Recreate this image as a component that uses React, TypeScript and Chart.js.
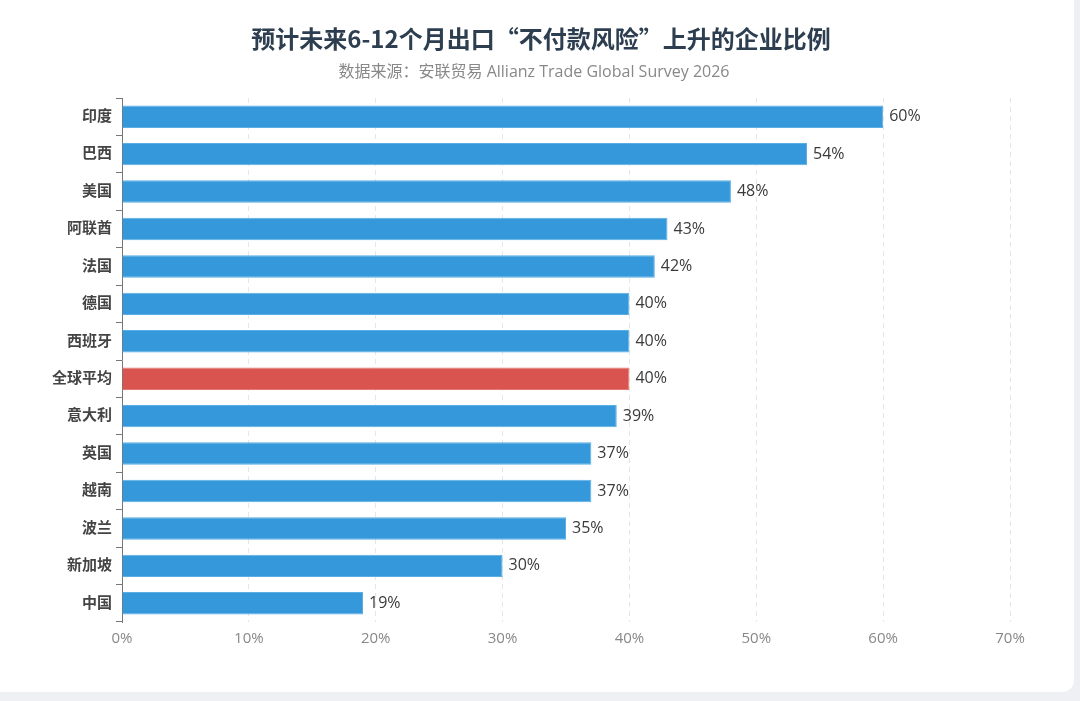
import React, { useEffect, useRef } from "react";
import { Chart, registerables } from "chart.js";

Chart.register(...registerables);

const TITLE = "预计未来6-12个月出口“不付款风险”上升的企业比例";
const SUBTITLE = "数据来源：安联贸易 Allianz Trade Global Survey 2026";
const categories = ["印度", "巴西", "美国", "阿联酋", "法国", "德国", "西班牙", "全球平均", "意大利", "英国", "越南", "波兰", "新加坡", "中国"];
const values = [60, 54, 48, 43, 42, 40, 40, 40, 39, 37, 37, 35, 30, 19];
const highlight = "全球平均";
const xTicks = [0, 10, 20, 30, 40, 50, 60, 70];

const BLUE = "#3498db";
const RED = "#d9534f";
const FONT = "'Open Sans', 'Noto Sans CJK SC', sans-serif";
const CJK_FONT = "'Noto Sans CJK SC', 'Open Sans', sans-serif";

const valueLabels = {
  id: "valueLabels",
  afterDatasetsDraw(chart: any) {
    const ctx = chart.ctx;
    const meta = chart.getDatasetMeta(0);
    ctx.save();
    ctx.font = `16px ${FONT}`;
    ctx.fillStyle = "#3a3a3a";
    ctx.textAlign = "left";
    ctx.textBaseline = "middle";
    meta.data.forEach((bar: any, i: number) => {
      ctx.fillText(`${values[i]}%`, bar.x + 6, bar.y);
    });
    ctx.restore();
  },
};

export default function App() {
  const ref = useRef<HTMLCanvasElement>(null);
  useEffect(() => {
    document.body.style.margin = "0";
    document.body.style.background = "#eef0f3";
    const chart = new Chart(ref.current!, {
      type: "bar",
      data: {
        labels: categories,
        datasets: [
          {
            data: values,
            backgroundColor: categories.map((c) => (c === highlight ? RED : BLUE)),
            borderColor: categories.map((c) => (c === highlight ? "#e57873" : "#5aaee6")),
            borderWidth: 1,
            categoryPercentage: 0.6,
            barPercentage: 1,
          },
        ],
      },
      options: {
        indexAxis: "y",
        animation: false,
        responsive: false,
        maintainAspectRatio: false,
        layout: { padding: { left: 48, right: 70, top: 98, bottom: 36 } },
        plugins: {
          legend: { display: false },
          tooltip: { enabled: false },
          title: { display: false },
        },
        scales: {
          x: {
            min: 0,
            max: 70,
            afterBuildTicks: (axis: any) => {
              axis.ticks = xTicks.map((v) => ({ value: v }));
            },
            ticks: {
              callback: (v: any) => `${v}%`,
              color: "#888",
              font: { family: FONT, size: 15 },
              padding: 8,
            },
            grid: {
              color: (c: any) => (c.tick && c.tick.value === 0 ? "rgba(0,0,0,0)" : "#e6e6e6"),
              drawTicks: false,
              tickLength: 0,
            },
            border: { display: false, dash: [5, 4] },
          },
          y: {
            ticks: {
              color: "#444",
              font: { family: FONT, size: 15, weight: "bold" },
              padding: 4,
            },
            grid: {
              offset: true,
              drawOnChartArea: false,
              drawTicks: true,
              tickLength: 6,
              color: "#777",
            },
            border: { display: true, color: "#777", width: 1 },
          },
        },
      },
      plugins: [valueLabels],
    });
    return () => chart.destroy();
  }, []);

  return (
    <div style={{ position: "relative", width: 1080, height: 701, overflow: "hidden", background: "#eef0f3" }}>
      <div
        style={{
          position: "absolute",
          left: -20,
          top: -20,
          width: 1094,
          height: 712,
          background: "#fff",
          borderRadius: 12,
        }}
      />
      <canvas ref={ref} width={1080} height={692} style={{ position: "absolute", left: 0, top: 0, width: 1080, height: 692 }} />
      <div
        style={{
          position: "absolute",
          left: 0,
          top: 24,
          width: 1082,
          textAlign: "center",
          fontFamily: CJK_FONT,
          fontSize: 24,
          fontWeight: "bold",
          lineHeight: "28px",
          color: "#2c3e50",
          whiteSpace: "nowrap",
        }}
      >
        {TITLE}
      </div>
      <div
        style={{
          position: "absolute",
          left: 0,
          top: 61,
          width: 1068,
          textAlign: "center",
          fontFamily: FONT,
          fontSize: 16,
          lineHeight: "20px",
          color: "#888",
          whiteSpace: "nowrap",
        }}
      >
        {SUBTITLE}
      </div>
    </div>
  );
}
